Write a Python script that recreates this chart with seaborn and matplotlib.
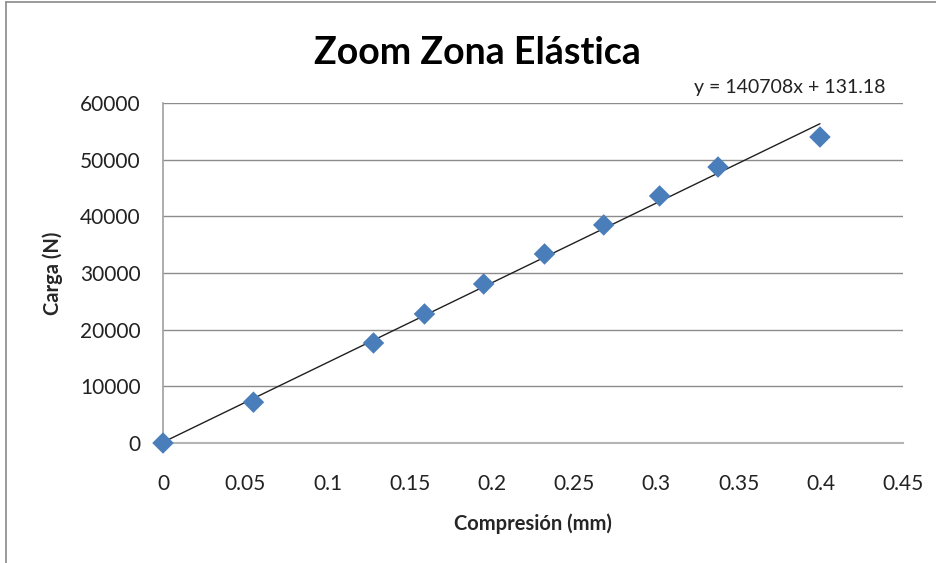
import matplotlib
matplotlib.use("Agg")
import matplotlib.pyplot as plt
import seaborn as sns
import numpy as np
import pandas as pd
from matplotlib.lines import Line2D

# Data
compresion = [0.0, 0.055, 0.128, 0.159, 0.195, 0.232, 0.268, 0.302, 0.3375, 0.3995]
carga = [0, 7200, 17650, 22770, 28060, 33360, 38480, 43600, 48700, 54000]
slope = 140708
intercept = 131.18
x_ticks = [0, 0.05, 0.1, 0.15, 0.2, 0.25, 0.3, 0.35, 0.4, 0.45]
y_ticks = [0, 10000, 20000, 30000, 40000, 50000, 60000]
x_tick_labels = ["0", "0.05", "0.1", "0.15", "0.2", "0.25", "0.3", "0.35", "0.4", "0.45"]

sns.set_theme(style="white")
plt.rcParams['font.family'] = ['Lato', 'DejaVu Sans']

df = pd.DataFrame({"x": compresion, "y": carga})
xs = np.array([min(compresion), max(compresion)])
trend = pd.DataFrame({"x": xs, "y": slope * xs + intercept})

fig = plt.figure(figsize=(9.37, 5.63), dpi=100)
ax = fig.add_axes([163/937, 1-443/563, (903-163)/937, (443-103)/563])

for yt in y_ticks[1:]:
    ax.axhline(yt, color="#8c8c8c", lw=1.0, zorder=0)

sns.lineplot(data=trend, x="x", y="y", ax=ax, color="#202020", lw=1.0, zorder=2)
sns.scatterplot(data=df, x="x", y="y", ax=ax, marker="D", s=120, color="#4a7ebb",
                edgecolor="none", zorder=3, clip_on=False)

ax.set_xlim(0, 0.45)
ax.set_ylim(0, 60000)
ax.set_xticks(x_ticks)
ax.set_xticklabels(x_tick_labels)
ax.set_yticks(y_ticks)
ax.set_yticklabels([str(v) for v in y_ticks])
ax.tick_params(axis="x", length=0, pad=22, labelsize=15, labelcolor="#222222")
ax.tick_params(axis="y", length=0, pad=16, labelsize=15, labelcolor="#222222")
for side in ["top", "right"]:
    ax.spines[side].set_visible(False)
ax.spines["left"].set_color("#a0a0a0")
ax.spines["bottom"].set_color("#b4b4b4")
ax.spines["left"].set_linewidth(1.2)
ax.spines["bottom"].set_linewidth(1.5)

ax.set_xlabel("Compresión (mm)", fontsize=14.5, fontweight="bold", labelpad=14)
ax.set_ylabel("Carga (N)", fontsize=14.5, fontweight="bold", labelpad=12)

fig.text(477/937, 1-53/563, "Zoom Zona Elástica", ha="center", va="center",
         fontsize=27, fontweight="bold", color="black")
fig.text(790/937, 1-87/563, "y = 140708x + 131.18", ha="center", va="center",
         fontsize=14, color="#222222")

# outer frame (top and left)
fig.add_artist(Line2D([6/937, 6/937], [0, 1-2/563], transform=fig.transFigure,
                      color="#8a8a8a", lw=1.2))
fig.add_artist(Line2D([6/937, 1], [1-2/563, 1-2/563], transform=fig.transFigure,
                      color="#8a8a8a", lw=1.2))

fig.savefig("out.png", dpi=100, facecolor="white")
